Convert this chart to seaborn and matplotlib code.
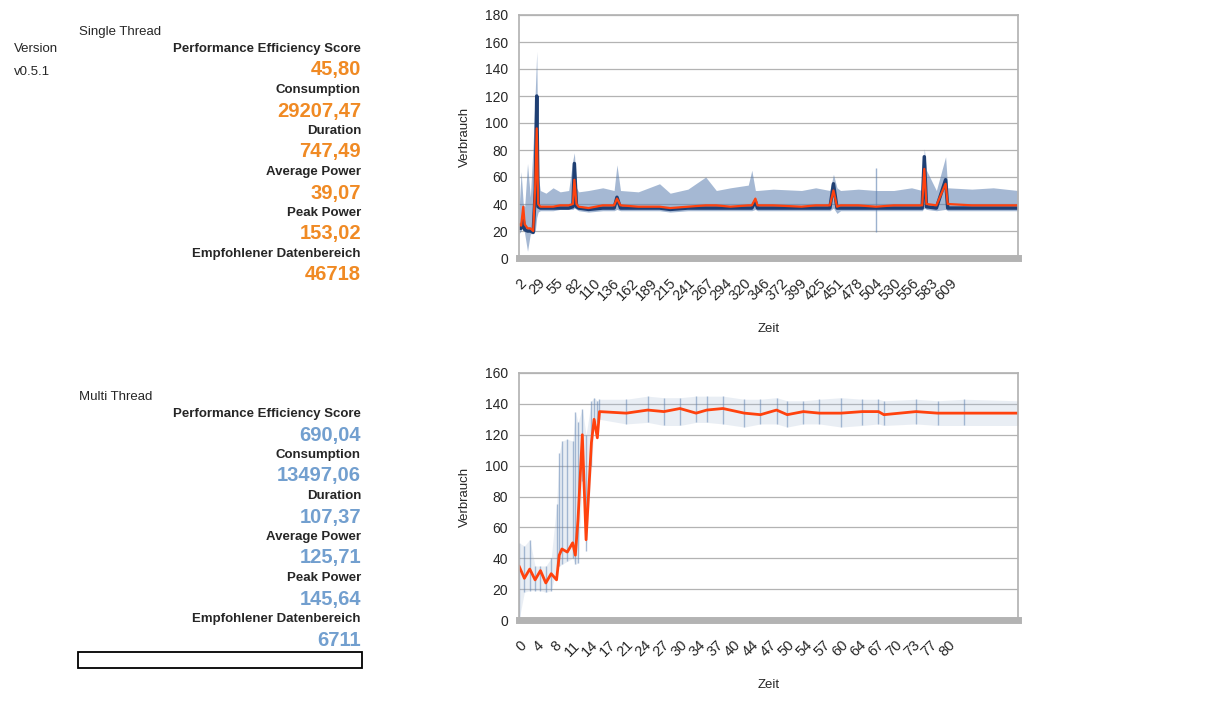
import numpy as np
import pandas as pd
import matplotlib
matplotlib.use("Agg")
import matplotlib.pyplot as plt
import matplotlib.patches as mpatches
import seaborn as sns

# ---- single thread series ----
st_x     = [2, 5, 8, 10, 14, 18, 22, 25, 27, 29, 32, 40, 50, 60, 72, 78, 80, 83, 86, 100,
            120, 136, 140, 145, 170, 200, 215, 240, 265, 280, 300, 325, 330, 335, 338, 360,
            400, 420, 440, 445, 450, 455, 480, 505, 530, 555, 570, 573, 576, 590, 603, 606,
            640, 670, 705]
st_avg   = [25, 24, 38, 25, 22, 22, 20, 55, 96, 40, 38, 38, 38, 39, 39, 40, 58, 40, 38, 37,
            39, 39, 44, 39, 38, 38, 37, 38, 39, 39, 38, 39, 39, 44, 39, 39,
            38, 39, 39, 50, 38, 39, 39, 38, 39, 39, 39, 66, 40, 39, 55, 40,
            39, 39, 39]
st_high  = [35, 64, 40, 38, 70, 45, 85, 125, 153, 61, 50, 48, 52, 49, 50, 73, 78, 52, 49, 50,
            52, 50, 69, 50, 49, 55, 48, 51, 60, 50, 52, 54, 65, 50, 50, 51,
            50, 52, 50, 62, 52, 50, 51, 50, 50, 52, 50, 81, 65, 50, 75, 52,
            51, 52, 50]
st_low   = [18, 20, 24, 18, 5, 18, 18, 20, 30, 34, 35, 35, 35, 36, 36, 36, 37, 36, 35, 34,
            35, 35, 36, 35, 35, 35, 34, 35, 35, 35, 35, 35, 35, 36, 35, 35,
            35, 35, 35, 37, 33, 35, 35, 35, 35, 35, 35, 37, 36, 35, 36, 35,
            35, 35, 35]
st_line  = [22, 22, 28, 21, 20, 20, 19, 50, 120, 38, 37, 37, 37, 37, 37, 38, 70, 38, 37, 36,
            37, 37, 45, 37, 37, 37, 36, 37, 37, 37, 37, 37, 37, 42, 37, 37,
            37, 37, 37, 55, 37, 37, 37, 37, 37, 37, 37, 75, 38, 37, 58, 37,
            37, 37, 37]
st_ticks = [2, 29, 55, 82, 110, 136, 162, 189, 215, 241, 267, 294, 320, 346, 372, 399,
            425, 451, 478, 504, 530, 556, 583, 609]

# ---- multi thread series ----
mt_x     = [0, 1, 2, 3, 4, 5, 6, 7, 7.5, 8, 9, 10, 10.5, 11, 11.8, 12.5, 13.5, 14, 14.6,
            15, 20, 24, 27, 30, 33, 35, 38, 42, 45, 48, 50, 53, 56, 60, 64, 67, 68, 74,
            78, 83, 93]
mt_avg   = [35, 27, 33, 26, 32, 24, 30, 26, 42, 46, 44, 50, 42, 65, 120, 52, 115, 130, 118,
            135, 134, 136, 135, 137, 134, 136, 137, 134, 133, 136, 133, 135, 134, 134, 135,
            135, 133, 135, 134, 134, 134]
mt_high  = [50, 48, 52, 35, 35, 35, 40, 75, 108, 116, 117, 116, 135, 128, 137, 120, 142, 144,
            142, 143, 143, 145, 144, 144, 145, 145, 145, 143, 143, 144, 142, 142, 143, 144,
            143, 143, 142, 143, 142, 143, 142]
mt_low   = [0, 18, 19, 19, 19, 18, 19, 33, 35, 36, 38, 40, 36, 37, 90, 45, 100, 125, 128,
            130, 127, 128, 126, 126, 128, 128, 127, 125, 127, 127, 125, 127, 127, 125, 126,
            127, 126, 127, 126, 126, 126]
mt_ticks = [0, 4, 8, 11, 14, 17, 21, 24, 27, 30, 34, 37, 40, 44, 47, 50, 54, 57, 60, 64,
            67, 70, 73, 77, 80]

# ---- key figures ----
metric_names = ["Performance Efficiency Score", "Consumption", "Duration",
                "Average Power", "Peak Power", "Empfohlener Datenbereich"]
single_vals  = ["45,80", "29207,47", "747,49", "39,07", "153,02", "46718"]
multi_vals   = ["690,04", "13497,06", "107,37", "125,71", "145,64", "6711"]

ORANGE = "#F08A24"
LIGHTBLUE = "#729FCF"
RED = "#FF420E"
NAVY = "#1F3F73"

sns.set_theme(style="whitegrid")
plt.rcParams["font.family"] = ["Liberation Sans", "DejaVu Sans"]

W, H = 1216, 723
fig = plt.figure(figsize=(W / 100, H / 100), dpi=100)
fig.patch.set_facecolor("white")


def px(x, y):
    return x / W, 1 - y / H


def text_block(title, title_y, values, val_color, first_y):
    fig.text(*px(79, title_y), title, fontsize=9.5, va="center", ha="left")
    for i, (name, val) in enumerate(zip(metric_names, values)):
        y = first_y + i * 41
        fig.text(*px(361, y), name, fontsize=9.5, fontweight="bold", ha="right", va="center")
        fig.text(*px(361, y + 21), val, fontsize=14.5, fontweight="bold", color=val_color,
                 ha="right", va="center")


text_block("Single Thread", 32, single_vals, ORANGE, 49)
fig.text(*px(14, 49), "Version", fontsize=9.5, va="center")
fig.text(*px(14, 72), "v0.5.1", fontsize=9.5, va="center")
text_block("Multi Thread", 397, multi_vals, LIGHTBLUE, 414)
fig.patches.append(mpatches.Rectangle(px(78, 668), 284 / W, 16 / H, transform=fig.transFigure,
                                      fill=False, edgecolor="black", linewidth=1.3))


def style_axes(ax, ylim, ystep, ticks, tick_span, xlim):
    ax.set_facecolor("white")
    ax.set_ylim(*ylim)
    ax.set_yticks(np.arange(ylim[0], ylim[1] + 1, ystep))
    ax.set_xlim(*xlim)
    # category-style labels: evenly spaced
    ax.set_xticks(np.linspace(tick_span[0], tick_span[1], len(ticks)))
    ax.set_xticklabels([str(t) for t in ticks], rotation=45, ha="right",
                       rotation_mode="anchor", fontsize=10.5)
    ax.tick_params(axis="y", labelsize=10, pad=2)
    ax.tick_params(axis="x", pad=7)
    ax.grid(axis="y", color="#b3b3b3", linewidth=0.9)
    ax.grid(axis="x", visible=False)
    for s in ["top", "right", "left"]:
        ax.spines[s].set_color("#b3b3b3")
    ax.spines["bottom"].set_color("#b3b3b3")
    ax.spines["bottom"].set_linewidth(5)
    ax.set_xlabel("Zeit", fontsize=9.5, labelpad=14)
    ax.set_ylabel("Verbrauch", fontsize=9.5, labelpad=10)


ax1 = fig.add_axes([px(519, 258)[0], px(519, 258)[1], 499 / W, 243 / H])
st = pd.DataFrame({"x": st_x, "avg": st_avg, "hi": st_high, "lo": st_low, "ln": st_line})
ax1.fill_between(st["x"], st["lo"], st["hi"], color="#5b7fb0", alpha=0.55, lw=0)
ax1.vlines([505], [19], [67], color="#5b7fb0", alpha=0.6, lw=1)
sns.lineplot(data=st, x="x", y="ln", ax=ax1, color=NAVY, lw=2.5)
sns.lineplot(data=st, x="x", y="avg", ax=ax1, color=RED, lw=1.6)
style_axes(ax1, (0, 180), 20, st_ticks, (2, 609), (2, 705))

ax2 = fig.add_axes([px(519, 620)[0], px(519, 620)[1], 499 / W, 247 / H])
mt = pd.DataFrame({"x": mt_x, "avg": mt_avg, "hi": mt_high, "lo": mt_low})
ax2.vlines(mt["x"], mt["lo"], mt["hi"], color="#5b7fb0", alpha=0.5, lw=1)
ax2.fill_between(mt["x"], mt["lo"], mt["hi"], color="#a9bcd6", alpha=0.25, lw=0)
sns.lineplot(data=mt, x="x", y="avg", ax=ax2, color=RED, lw=2)
style_axes(ax2, (0, 160), 20, mt_ticks, (0, 80), (0, 93))

fig.savefig("out.png", dpi=100)
